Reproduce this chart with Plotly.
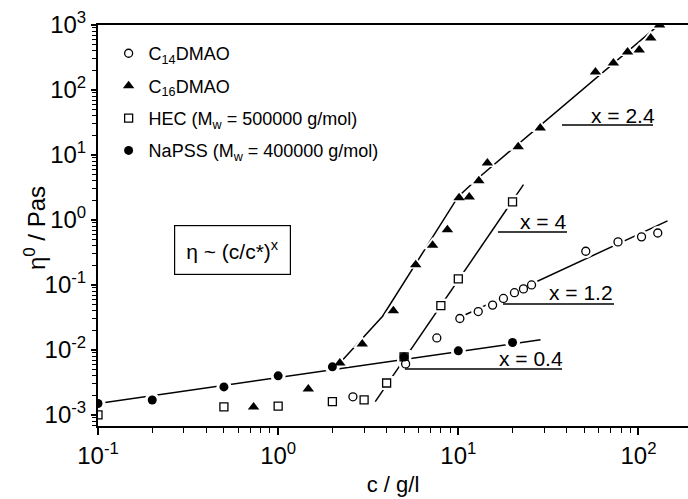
import plotly.graph_objects as go

# Zero-shear viscosity vs concentration
napss_c = [0.1, 0.2, 0.5, 1.0, 2.0, 5.0, 10.0, 20.0]
napss_eta = [1.5e-3, 1.7e-3, 2.7e-3, 4.0e-3, 5.5e-3, 7.8e-3, 9.7e-3, 1.3e-2]

hec_c = [0.1, 0.5, 1.0, 2.0, 3.0, 4.0, 5.0, 8.0, 10.0, 20.0]
hec_eta = [1.0e-3, 1.33e-3, 1.37e-3, 1.6e-3, 1.7e-3, 3.1e-3, 7.8e-3, 4.8e-2, 0.124, 1.9]

c14_c = [2.6, 5.1, 7.6, 10.2, 12.9, 15.5, 17.8, 20.5, 23.0, 25.5, 51, 77, 104, 128]
c14_eta = [1.9e-3, 6.1e-3, 1.53e-2, 3.05e-2, 3.9e-2, 4.9e-2, 6.2e-2, 7.6e-2, 8.7e-2,
           0.10, 0.33, 0.46, 0.55, 0.63]

c16_c = [0.73, 1.47, 2.2, 2.93, 4.36, 5.8, 7.2, 8.7, 10.1, 11.5, 13.0, 14.5, 21.5,
         28.5, 57.7, 72.6, 87, 101, 117, 131]
c16_eta = [1.33e-3, 2.5e-3, 6.3e-3, 1.23e-2, 4.0e-2, 0.205, 0.41, 0.71, 2.2, 2.26, 4.0,
           7.5, 13.4, 26, 189, 260, 385, 412, 630, 1000]

# power-law fit lines (vertices)
napss_fit_c = [0.1, 28.6]
napss_fit_eta = [1.5e-3, 1.43e-2]
hec_fit_c = [3.46, 23.0]
hec_fit_eta = [1.6e-3, 3.5]
c14_fit_c = [10.0, 145.0]
c14_fit_eta = [3.1e-2, 0.97]
c16_fit_c = [2.2, 3.8, 10.0, 13.0, 135.0]
c16_fit_eta = [6.3e-3, 3.3e-2, 2.3, 4.5, 1100.0]

# exponent labels
slope_labels = ["x = 2.4", "x = 4", "x = 1.2", "x = 0.4"]

x_tickvals = [0.1, 1, 10, 100]
x_ticktext = ["10<sup>-1</sup>", "10<sup>0</sup>", "10<sup>1</sup>", "10<sup>2</sup>"]
y_tickvals = [1e-3, 1e-2, 1e-1, 1, 10, 100, 1000]
y_ticktext = ["10<sup>-3</sup>", "10<sup>-2</sup>", "10<sup>-1</sup>", "10<sup>0</sup>",
              "10<sup>1</sup>", "10<sup>2</sup>", "10<sup>3</sup>"]

FONT = "Arial, Liberation Sans, Helvetica, sans-serif"

series = [
    # name, c, eta, symbol, size, rank
    ("HEC (M<sub>w</sub> = 500000 g/mol)", hec_c, hec_eta, "square-open", 8, 3),
    ("C<sub>14</sub>DMAO", c14_c, c14_eta, "circle-open", 8, 1),
    ("C<sub>16</sub>DMAO", c16_c, c16_eta, "triangle-up", 10, 2),
    ("NaPSS (M<sub>w</sub> = 400000 g/mol)", napss_c, napss_eta, "circle", 9, 4),
]

fig = go.Figure()

# fit lines
for fc, fe in [(napss_fit_c, napss_fit_eta), (hec_fit_c, hec_fit_eta),
               (c14_fit_c, c14_fit_eta), (c16_fit_c, c16_fit_eta)]:
    fig.add_trace(go.Scatter(x=fc, y=fe, mode="lines",
                             line=dict(color="black", width=1.5),
                             showlegend=False, hoverinfo="skip"))

# white halos so the lines break around the symbols
for name, c, e, sym, size, rank in series:
    base = sym.replace("-open", "")
    fig.add_trace(go.Scatter(x=c, y=e, mode="markers",
                             marker=dict(symbol=base, size=size + 6, color="white",
                                         line=dict(width=0)),
                             showlegend=False, hoverinfo="skip"))

# data symbols
for name, c, e, sym, size, rank in series:
    if sym.endswith("-open"):
        mk = dict(symbol=sym.replace("-open", ""), size=size, color="white",
                  line=dict(color="black", width=1.3))
    else:
        mk = dict(symbol=sym, size=size, color="black", line=dict(width=0))
    fig.add_trace(go.Scatter(x=c, y=e, mode="markers", name=name, marker=mk,
                             legendgroup=name, legendrank=rank))

# helpers for pixel -> paper conversion of annotation positions
L, R, T, B = 98, 688, 25, 426
def px(x):
    return (x - L) / (R - L)
def py(y):
    return 1 - (y - T) / (B - T)

# exponent labels with underlines
label_pos = [(623, 116), (543, 222), (581, 292), (531, 358)]
underline = [(562, 653, 125), (498, 567, 232), (503, 614, 304), (405, 562, 369)]
for txt, (lx, ly), (u0, u1, uy) in zip(slope_labels, label_pos, underline):
    fig.add_annotation(x=px(lx), y=py(ly), xref="paper", yref="paper", text=txt,
                       showarrow=False, font=dict(family=FONT, size=21, color="black"),
                       xanchor="center", yanchor="middle")
    fig.add_shape(type="line", xref="paper", yref="paper",
                  x0=px(u0), x1=px(u1), y0=py(uy), y1=py(uy),
                  line=dict(color="black", width=1.5))

# scaling law box
fig.add_annotation(x=px(232), y=py(250), xref="paper", yref="paper",
                   text="η ~ (c/c*)<sup>x</sup>", showarrow=False,
                   font=dict(family=FONT, size=21, color="black"),
                   bordercolor="black", borderwidth=1.2, borderpad=11,
                   bgcolor="white", xanchor="center", yanchor="middle")

# y-axis title
fig.add_annotation(x=px(35), y=py(228), xref="paper", yref="paper",
                   text="η<sup>0</sup> / Pas", textangle=-90, showarrow=False,
                   font=dict(family=FONT, size=24, color="black"),
                   xanchor="center", yanchor="middle")

def minor_vals(lo, hi):
    out = []
    d = lo
    while d < hi:
        out += [d * k for k in range(2, 10)]
        d *= 10
    return out

fig.update_layout(
    width=688, height=499,
    margin=dict(l=L, r=0, t=T, b=499 - B),
    paper_bgcolor="white", plot_bgcolor="white",
    font=dict(family=FONT, color="black"),
    showlegend=True,
    legend=dict(x=0.018, y=0.975, xanchor="left", yanchor="top",
                font=dict(family=FONT, size=18, color="black"),
                bgcolor="rgba(0,0,0,0)", tracegroupgap=6,
                itemwidth=30),
)

fig.update_xaxes(
    type="log", range=[-1, 2.275],
    tickvals=x_tickvals, ticktext=x_ticktext,
    ticks="outside", ticklen=7, tickwidth=1.5, tickcolor="black",
    minor=dict(tickvals=minor_vals(0.1, 1000), ticks="outside", ticklen=5,
               tickwidth=1.2, tickcolor="black", showgrid=False),
    showline=True, linecolor="black", linewidth=2, mirror=True,
    showgrid=False, zeroline=False,
    tickfont=dict(family=FONT, size=24, color="black"),
    title=dict(text="c / g/l", font=dict(family=FONT, size=22, color="black"),
               standoff=9),
)
fig.update_yaxes(
    type="log", range=[-3.17, 3.0],
    tickvals=y_tickvals, ticktext=y_ticktext,
    ticks="outside", ticklen=5, tickwidth=1.5, tickcolor="black",
    minor=dict(tickvals=minor_vals(1e-4, 1000), ticks="outside", ticklen=4,
               tickwidth=1.2, tickcolor="black", showgrid=False),
    showline=True, linecolor="black", linewidth=2, mirror=False,
    showgrid=False, zeroline=False,
    tickfont=dict(family=FONT, size=24, color="black"),
)

fig.write_html("out.html")
